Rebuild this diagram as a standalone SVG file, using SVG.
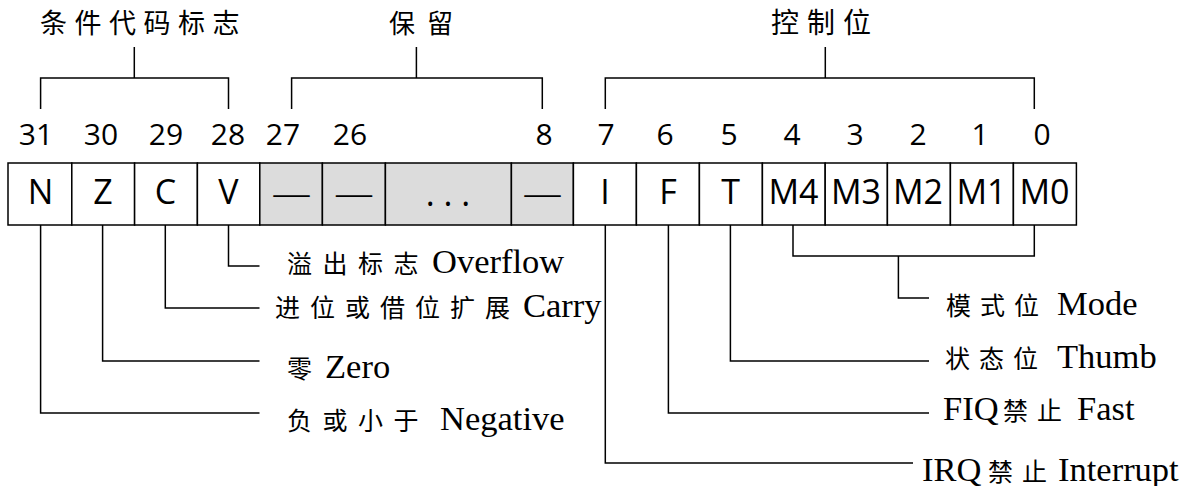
<svg xmlns="http://www.w3.org/2000/svg" width="1180" height="486" viewBox="0 0 1180 486">
<style>
.cell{fill:#fff;stroke:#000;stroke-width:1.5}
.res{fill:#dcdcdc;stroke:#000;stroke-width:1.5}
.bit{font-family:"Open Sans","Noto Sans",sans-serif;font-size:34px;text-anchor:middle;fill:#000}
.dash{font-family:"Liberation Serif",serif;font-size:36px;text-anchor:middle;fill:#000}
.num{font-family:"Open Sans","Noto Sans",sans-serif;font-size:30px;text-anchor:middle;fill:#000}
.title{font-family:"Noto Sans CJK SC",sans-serif;font-size:27px;letter-spacing:7.5px;fill:#000}
.lbl{font-family:"Liberation Serif","Noto Sans CJK SC",serif;font-size:34.5px;fill:#000}
.cjk{font-family:"Noto Sans CJK SC",sans-serif;font-size:25px;letter-spacing:10.5px;fill:#000}
.cjk2{font-family:"Noto Sans CJK SC",sans-serif;font-size:25px;letter-spacing:9px;fill:#000}
.conn path{fill:none;stroke:#000;stroke-width:1.5}
</style>
<rect width="1180" height="486" fill="#fff"/>

<g id="titles">
<text class="title" x="40" y="33">条件代码标志</text>
<text class="title" x="389" y="33" style="font-size:26px;letter-spacing:12px">保留</text>
<text class="title" x="771" y="33" style="font-size:28px;letter-spacing:8px">控制位</text>
</g>

<g id="bit-numbers">
<text class="num" x="36" y="145">31</text>
<text class="num" x="101" y="145">30</text>
<text class="num" x="166" y="145">29</text>
<text class="num" x="228" y="145">28</text>
<text class="num" x="283" y="145">27</text>
<text class="num" x="350" y="145">26</text>
<text class="num" x="544" y="145">8</text>
<text class="num" x="606" y="145">7</text>
<text class="num" x="665" y="145">6</text>
<text class="num" x="729" y="145">5</text>
<text class="num" x="792" y="145">4</text>
<text class="num" x="855" y="145">3</text>
<text class="num" x="918" y="145">2</text>
<text class="num" x="980" y="145">1</text>
<text class="num" x="1042" y="145">0</text>
</g>

<g id="cell-N"><rect class="cell" x="8" y="163" width="63.8" height="62"/><text class="bit" x="40.6" y="204">N</text></g>
<g id="cell-Z"><rect class="cell" x="71.8" y="163" width="62.8" height="62"/><text class="bit" x="103" y="204">Z</text></g>
<g id="cell-C"><rect class="cell" x="134.6" y="163" width="62.8" height="62"/><text class="bit" x="165.5" y="204">C</text></g>
<g id="cell-V"><rect class="cell" x="197.4" y="163" width="62.4" height="62"/><text class="bit" x="228.5" y="204">V</text></g>
<g id="cell-r27"><rect class="res" x="259.8" y="163" width="62.6" height="62"/><text class="dash" x="291.5" y="204.6">—</text></g>
<g id="cell-r26"><rect class="res" x="322.4" y="163" width="63" height="62"/><text class="dash" x="354" y="204.6">—</text></g>
<g id="cell-rdots"><rect class="res" x="385.4" y="163" width="126" height="62"/><text class="bit" x="448" y="206">. . .</text></g>
<g id="cell-r8"><rect class="res" x="511.4" y="163" width="62" height="62"/><text class="dash" x="542.5" y="204.6">—</text></g>
<g id="cell-I"><rect class="cell" x="573.4" y="163" width="63" height="62"/><text class="bit" x="605" y="204">I</text></g>
<g id="cell-F"><rect class="cell" x="636.4" y="163" width="63" height="62"/><text class="bit" x="668" y="204">F</text></g>
<g id="cell-T"><rect class="cell" x="699.4" y="163" width="63" height="62"/><text class="bit" x="730.5" y="204">T</text></g>
<g id="cell-M4"><rect class="cell" x="762.4" y="163" width="62.8" height="62"/><text class="bit" x="793.5" y="204">M4</text></g>
<g id="cell-M3"><rect class="cell" x="825.2" y="163" width="62.2" height="62"/><text class="bit" x="856" y="204">M3</text></g>
<g id="cell-M2"><rect class="cell" x="887.4" y="163" width="63" height="62"/><text class="bit" x="918" y="204">M2</text></g>
<g id="cell-M1"><rect class="cell" x="950.4" y="163" width="63" height="62"/><text class="bit" x="981.5" y="204">M1</text></g>
<g id="cell-M0"><rect class="cell" x="1013.4" y="163" width="63" height="62"/><text class="bit" x="1044.5" y="204">M0</text></g>

<g class="conn" id="connectors">
<path d="M40.6 109V78H228.5V109M134.3 47V78"/>
<path d="M291.6 109V78H542.3V109M416.4 47V78"/>
<path d="M605.3 109V78H1034.3V109M825.3 47V78"/>
<path d="M228.5 225V266H259.5"/>
<path d="M165.3 225V308H259.5"/>
<path d="M102.6 225V361H259.5"/>
<path d="M40.6 225V413H259.5"/>
<path d="M605.3 225V463H913"/>
<path d="M668.4 225V413H929"/>
<path d="M730.4 225V361H929"/>
<path d="M793 225V256H1034.3V225M898.4 256V298H929"/>
</g>

<g id="label-overflow"><text class="cjk" x="287" y="273">溢出标志</text><text class="lbl" x="432" y="273">Overflow</text></g>
<g id="label-carry"><text class="cjk" x="275" y="317" style="letter-spacing:10px">进位或借位扩展</text><text class="lbl" x="523" y="317">Carry</text></g>
<g id="label-zero"><text class="cjk" x="287" y="378">零</text><text class="lbl" x="325" y="378">Zero</text></g>
<g id="label-negative"><text class="cjk" x="287" y="430">负或小于</text><text class="lbl" x="440" y="430">Negative</text></g>
<g id="label-mode"><text class="cjk2" x="946" y="315">模式位</text><text class="lbl" x="1057" y="315">Mode</text></g>
<g id="label-thumb"><text class="cjk2" x="945" y="368">状态位</text><text class="lbl" x="1057" y="368">Thumb</text></g>
<g id="label-fast"><text class="lbl" x="943" y="420">FIQ</text><text class="cjk2" x="1003" y="420">禁止</text><text class="lbl" x="1077" y="420">Fast</text></g>
<g id="label-interrupt"><text class="lbl" x="922" y="481">IRQ</text><text class="cjk2" x="988" y="481">禁止</text><text class="lbl" x="1058" y="481">Interrupt</text></g>
</svg>
